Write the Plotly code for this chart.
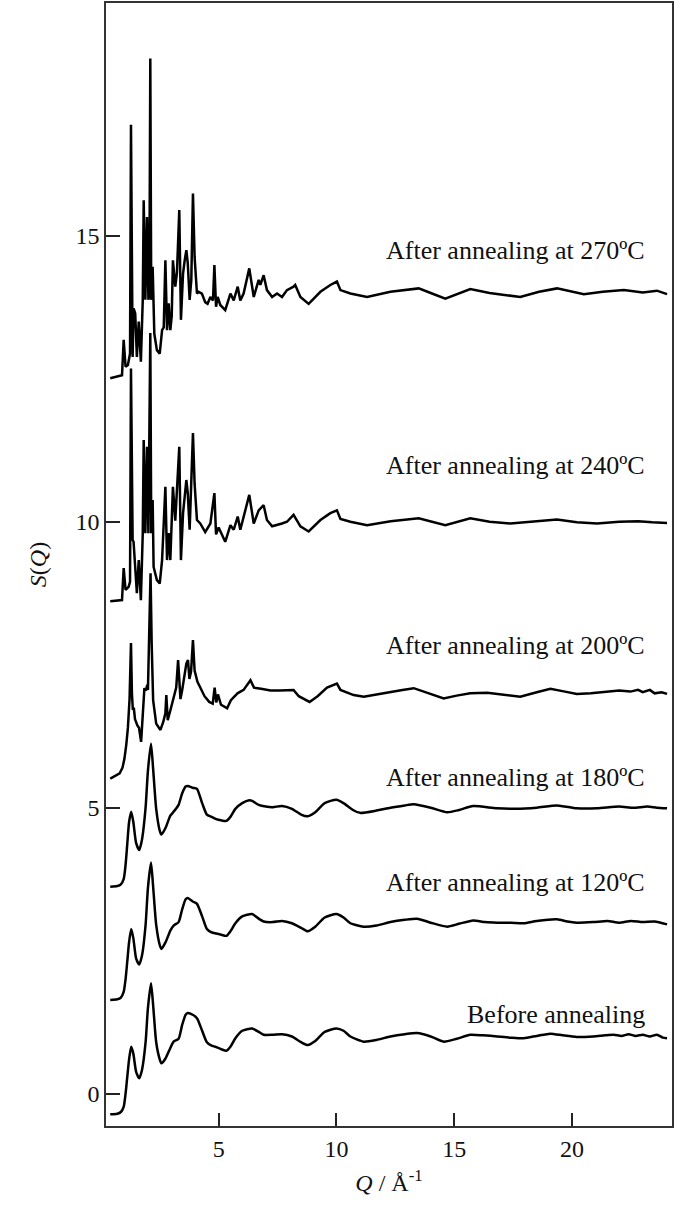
import plotly.graph_objects as go

# ---------------- data ----------------
LABELS = ["Before annealing", "After annealing at 120ºC", "After annealing at 180ºC",
          "After annealing at 200ºC", "After annealing at 240ºC", "After annealing at 270ºC"]
OFFSETS = [0, 2, 4, 6, 9, 13]

Q_before = [0.40, 0.70, 0.85, 0.97, 1.05, 1.11, 1.20, 1.29, 1.38, 1.50, 1.63, 1.75, 1.90, 2.00, 2.13,
            2.22, 2.35, 2.50, 2.57, 2.75, 2.95, 3.09, 3.30, 3.45, 3.60, 3.69, 3.90, 4.08, 4.30, 4.50,
            4.70, 4.86, 5.10, 5.33, 5.50, 5.71, 6.00, 6.42, 6.70, 6.91, 7.30, 7.69, 8.11, 8.50, 8.78,
            9.10, 9.50, 10.00, 10.30, 10.59, 11.15, 11.70, 12.29, 12.90, 13.42, 14.00, 14.55, 15.10,
            15.68, 16.20, 16.82, 17.40, 17.95, 18.50, 19.08, 19.60, 20.20, 20.90, 21.40, 21.77, 22.10,
            22.40, 22.70, 23.00, 23.30, 23.60, 23.85, 24.03]
S_before = [-0.36, -0.35, -0.32, -0.23, 0.00, 0.24, 0.60, 0.82, 0.70, 0.38, 0.27, 0.42, 0.90, 1.50, 1.93,
            1.55, 0.90, 0.60, 0.53, 0.62, 0.80, 0.91, 0.96, 1.20, 1.38, 1.41, 1.38, 1.32, 1.10, 0.90,
            0.84, 0.82, 0.78, 0.75, 0.82, 0.97, 1.10, 1.14, 1.08, 1.03, 1.03, 1.04, 1.00, 0.90, 0.85,
            0.92, 1.08, 1.14, 1.10, 1.00, 0.91, 0.94, 1.00, 1.04, 1.06, 1.00, 0.91, 0.96,
            1.03, 1.02, 1.00, 0.98, 0.97, 1.01, 1.05, 1.02, 0.99, 1.00, 1.02, 1.03, 1.01,
            1.04, 1.01, 1.03, 1.00, 1.03, 0.98, 0.97]

Q_120 = [0.40, 0.70, 0.85, 0.97, 1.05, 1.12, 1.20, 1.29, 1.38, 1.50, 1.63, 1.75, 1.90, 2.00, 2.13,
         2.22, 2.35, 2.50, 2.57, 2.75, 2.95, 3.09, 3.30, 3.45, 3.60, 3.69, 3.90, 4.08, 4.30, 4.50,
         4.70, 4.90, 5.10, 5.33, 5.50, 5.71, 6.00, 6.42, 6.70, 6.91, 7.30, 7.69, 8.11, 8.50, 8.78,
         9.10, 9.50, 10.00, 10.30, 10.59, 11.15, 11.70, 12.29, 12.90, 13.42, 14.00, 14.70, 15.20,
         15.80, 16.30, 16.82, 17.40, 17.95, 18.50, 19.36, 19.80, 20.20, 20.90, 21.50, 22.00, 22.50,
         23.00, 23.50, 24.03]
S_120 = [-0.36, -0.35, -0.32, -0.22, 0.00, 0.30, 0.65, 0.88, 0.72, 0.36, 0.26, 0.42, 0.95, 1.60, 2.04,
         1.62, 0.95, 0.60, 0.53, 0.65, 0.85, 0.94, 1.00, 1.22, 1.40, 1.42, 1.36, 1.32, 1.10, 0.88,
         0.82, 0.80, 0.78, 0.76, 0.84, 0.98, 1.10, 1.14, 1.06, 1.01, 1.00, 1.02, 0.98, 0.90, 0.84,
         0.92, 1.08, 1.14, 1.08, 0.98, 0.92, 0.94, 1.00, 1.04, 1.06, 0.99, 0.92, 0.97,
         1.03, 1.00, 0.99, 0.99, 0.98, 1.02, 1.05, 1.01, 0.99, 1.00, 1.02, 0.99, 1.02,
         1.00, 1.01, 0.96]

Q_180 = [0.40, 0.70, 0.85, 0.97, 1.05, 1.12, 1.20, 1.29, 1.38, 1.50, 1.63, 1.75, 1.90, 2.00, 2.13,
         2.22, 2.35, 2.50, 2.57, 2.75, 2.95, 3.09, 3.30, 3.45, 3.60, 3.69, 3.90, 4.08, 4.30, 4.50,
         4.70, 4.90, 5.10, 5.33, 5.50, 5.71, 6.00, 6.30, 6.42, 6.70, 7.00, 7.30, 7.69, 8.11, 8.50,
         8.78, 9.10, 9.50, 10.00, 10.30, 10.70, 11.00, 11.70, 12.29, 12.90, 13.28, 14.00, 14.70,
         15.20, 15.80, 16.80, 17.60, 18.50, 19.36, 20.20, 21.06, 22.00, 22.60, 23.20, 23.60, 24.03]
S_180 = [-0.38, -0.37, -0.34, -0.25, 0.00, 0.35, 0.75, 0.93, 0.75, 0.38, 0.26, 0.45, 1.00, 1.65, 2.12,
         1.68, 0.98, 0.60, 0.53, 0.65, 0.86, 0.93, 1.05, 1.25, 1.37, 1.38, 1.35, 1.33, 1.08, 0.88,
         0.84, 0.80, 0.78, 0.77, 0.84, 0.98, 1.08, 1.13, 1.12, 1.05, 1.02, 1.01, 1.03, 0.98, 0.88,
         0.85, 0.92, 1.08, 1.14, 1.08, 0.96, 0.91, 0.95, 1.00, 1.04, 1.06, 1.00, 0.92,
         0.96, 1.03, 0.99, 0.98, 1.00, 1.04, 0.99, 0.99, 1.02, 1.00, 1.02, 1.00, 0.99]

Q_200 = [0.40, 0.80, 0.92, 1.00, 1.08, 1.15, 1.22, 1.28, 1.32, 1.36, 1.40, 1.45, 1.55, 1.62, 1.71,
         1.78, 1.85, 1.92, 1.97, 2.00, 2.04, 2.11, 2.16, 2.22, 2.35, 2.53, 2.65, 2.74, 2.78, 2.84,
         2.95, 3.10, 3.20, 3.28, 3.33, 3.38, 3.45, 3.55, 3.63, 3.70, 3.76, 3.83, 3.91, 3.98, 4.10,
         4.20, 4.40, 4.60, 4.75, 4.83, 4.90, 4.97, 5.10, 5.36, 5.52, 5.80, 6.06, 6.35, 6.50, 6.80,
         7.20, 7.60, 8.18, 8.40, 8.86, 9.20, 9.60, 10.02, 10.17, 10.73, 11.16, 11.70, 12.29, 12.80,
         13.28, 13.90, 14.55, 15.10, 15.68, 16.40, 17.10, 17.80, 18.50, 19.08, 19.70, 20.20, 20.80,
         21.50, 22.00, 22.47, 22.80, 23.00, 23.30, 23.50, 23.80, 24.03]
S_200 = [-0.49, -0.40, -0.30, -0.15, 0.10, 0.40, 0.90, 1.88, 1.00, 0.71, 0.75, 0.55, 0.44, 0.40, 0.15,
         0.60, 1.09, 1.05, 1.15, 1.06, 1.81, 3.10, 1.85, 0.88, 0.47, 0.36, 0.50, 0.65, 0.97, 0.53,
         0.70, 0.95, 1.10, 1.58, 1.18, 0.90, 1.05, 1.30, 1.52, 1.58, 1.25, 1.38, 1.93, 1.40, 1.20,
         1.12, 0.95, 0.85, 0.82, 1.10, 0.84, 0.98, 0.80, 0.74, 0.88, 1.00, 1.06, 1.23, 1.10, 1.08,
         1.05, 1.05, 1.06, 0.95, 0.85, 0.95, 1.10, 1.17, 1.06, 0.97, 0.94, 0.98, 1.03, 1.06,
         1.09, 1.00, 0.91, 0.96, 1.00, 1.01, 0.98, 0.94, 1.02, 1.08, 1.03, 0.99, 1.00,
         1.03, 1.05, 1.03, 1.06, 1.02, 1.06, 1.00, 1.02, 0.99]

Q_240 = [0.40, 0.90, 0.97, 1.05, 1.18, 1.24, 1.28, 1.35, 1.39, 1.46, 1.53, 1.61, 1.70, 1.78, 1.82,
         1.89, 1.96, 2.02, 2.10, 2.14, 2.20, 2.24, 2.38, 2.50, 2.60, 2.74, 2.81, 2.88, 2.95, 3.06,
         3.16, 3.33, 3.40, 3.49, 3.63, 3.69, 3.77, 3.91, 3.98, 4.08, 4.22, 4.43, 4.65, 4.82, 4.89,
         5.00, 5.28, 5.50, 5.64, 5.81, 5.92, 6.30, 6.49, 6.70, 6.91, 7.05, 7.27, 7.69, 7.90, 8.18,
         8.47, 8.82, 9.32, 9.74, 10.02, 10.17, 10.59, 11.30, 12.30, 13.49, 14.62, 15.68, 16.50,
         17.38, 18.40, 19.36, 20.20, 21.06, 22.00, 22.80, 23.40, 24.03]
S_240 = [-0.39, -0.37, 0.19, -0.19, -0.14, -0.05, 3.68, 0.68, 0.65, 0.27, -0.25, 0.33, -0.37, 0.80, 2.43,
         0.80, 2.31, 0.80, 4.30, 0.80, 1.38, 0.21, -0.02, -0.08, 0.33, 1.61, 0.33, 0.80, 0.33, 1.61,
         1.02, 2.31, 0.33, 1.15, 1.73, 1.50, 0.86, 2.55, 1.67, 1.03, 0.97, 0.82, 0.97, 1.50, 0.78,
         0.90, 0.65, 0.94, 0.86, 1.09, 0.86, 1.47, 0.97, 1.20, 1.29, 1.03, 0.92, 0.97, 1.00, 1.12,
         0.92, 0.83, 1.03, 1.15, 1.20, 1.05, 1.00, 0.94, 1.01, 1.06, 0.94, 1.06, 1.00,
         0.97, 1.01, 1.04, 0.99, 0.97, 1.00, 1.01, 0.99, 0.98]

Q_270 = [0.40, 0.90, 0.97, 1.05, 1.15, 1.24, 1.28, 1.35, 1.39, 1.46, 1.53, 1.61, 1.70, 1.78, 1.82,
         1.89, 1.96, 2.02, 2.06, 2.10, 2.14, 2.20, 2.27, 2.38, 2.50, 2.60, 2.67, 2.74, 2.81, 2.88,
         2.95, 3.01, 3.06, 3.16, 3.23, 3.33, 3.40, 3.49, 3.56, 3.63, 3.69, 3.77, 3.84, 3.91, 3.98,
         4.08, 4.15, 4.29, 4.43, 4.53, 4.65, 4.76, 4.82, 4.89, 4.96, 5.07, 5.28, 5.50, 5.64, 5.81,
         5.92, 6.06, 6.30, 6.49, 6.70, 6.77, 6.91, 7.05, 7.27, 7.48, 7.69, 7.90, 8.18, 8.25, 8.47,
         8.82, 9.32, 9.74, 10.02, 10.17, 10.59, 11.30, 12.29, 13.49, 14.00, 14.62, 15.68, 16.50,
         17.80, 18.60, 19.36, 20.50, 21.30, 22.20, 23.00, 23.60, 24.03]
S_270 = [-0.49, -0.44, 0.18, -0.29, -0.26, -0.06, 3.94, -0.12, 0.73, 0.64, -0.12, 0.50, -0.20, 0.88, 2.62,
         0.88, 2.33, 0.88, 1.00, 5.10, 0.88, 1.46, 0.29, 0.00, -0.06, 0.35, 0.40, 1.57, 0.35, 0.82,
         0.35, 0.60, 1.57, 1.11, 1.35, 2.45, 0.53, 1.34, 1.57, 1.75, 1.52, 0.88, 1.23, 2.74, 1.63,
         0.99, 1.02, 0.99, 0.84, 0.81, 0.93, 0.87, 1.49, 0.76, 0.93, 0.79, 0.70, 0.99, 0.87, 1.11,
         0.87, 0.99, 1.43, 0.93, 1.23, 1.14, 1.31, 1.05, 0.93, 0.99, 0.93, 1.05, 1.11, 1.14, 0.93,
         0.81, 1.02, 1.14, 1.20, 1.05, 0.99, 0.93, 1.02, 1.08, 1.00, 0.90, 1.07, 1.00,
         0.93, 1.02, 1.08, 0.98, 1.02, 1.05, 1.01, 1.04, 0.98]

Q_DATA = [Q_before, Q_120, Q_180, Q_200, Q_240, Q_270]
S_DATA = [S_before, S_120, S_180, S_200, S_240, S_270]
SMOOTH = [True, True, True, False, False, False]

X_TICKS = [5, 10, 15, 20]
Y_TICKS = [0, 5, 10, 15]
X_RANGE = [0.22, 24.24]
Y_RANGE = [-0.565, 19.07]

# label placement (Q, displayed S) for each curve
LABEL_Q = [23.18] * 6
LABEL_Y = [1.38, 3.69, 5.52, 7.83, 10.99, 14.74]

# ---------------- figure ----------------
fig = go.Figure()
for q, s, off, name, sm in zip(Q_DATA, S_DATA, OFFSETS, LABELS, SMOOTH):
    line = dict(color="black", width=2.5)
    if sm:
        line.update(shape="spline", smoothing=0.6)
    fig.add_trace(go.Scatter(
        x=q, y=[v + off for v in s], mode="lines", name=name,
        line=line, showlegend=False, hoverinfo="skip"))

FONT = "Liberation Serif"
for name, lq, ly in zip(LABELS, LABEL_Q, LABEL_Y):
    fig.add_annotation(x=lq, y=ly, xref="x", yref="y", text=name, showarrow=False,
                       xanchor="right", yanchor="middle",
                       font=dict(family=FONT, size=26, color="#111"))

fig.update_layout(
    width=675, height=1214,
    margin=dict(l=106, r=3, t=3, b=88),
    paper_bgcolor="white", plot_bgcolor="white",
    font=dict(family=FONT, size=24, color="#111"),
    xaxis=dict(range=X_RANGE, tickvals=X_TICKS, ticks="inside", ticklen=13, tickwidth=1.5,
               tickcolor="#222", showline=True, linecolor="#333", linewidth=1.5, mirror=True,
               showgrid=False, zeroline=False, tickfont=dict(size=24), automargin=False,
               title=dict(text="<i>Q</i> / Å<sup>-1</sup>", font=dict(size=24), standoff=14)),
    yaxis=dict(range=Y_RANGE, tickvals=Y_TICKS, ticks="inside", ticklen=14, tickwidth=1.5,
               tickcolor="#222", showline=True, linecolor="#333", linewidth=1.5, mirror=True,
               showgrid=False, zeroline=False, tickfont=dict(size=24), automargin=False,
               title=dict(text="<i>S</i>(<i>Q</i>)", font=dict(size=24), standoff=22)),
)

fig.write_html("out.html", config={"displayModeBar": False},
               post_script="document.body.style.margin='0';document.body.style.overflow='hidden';")
